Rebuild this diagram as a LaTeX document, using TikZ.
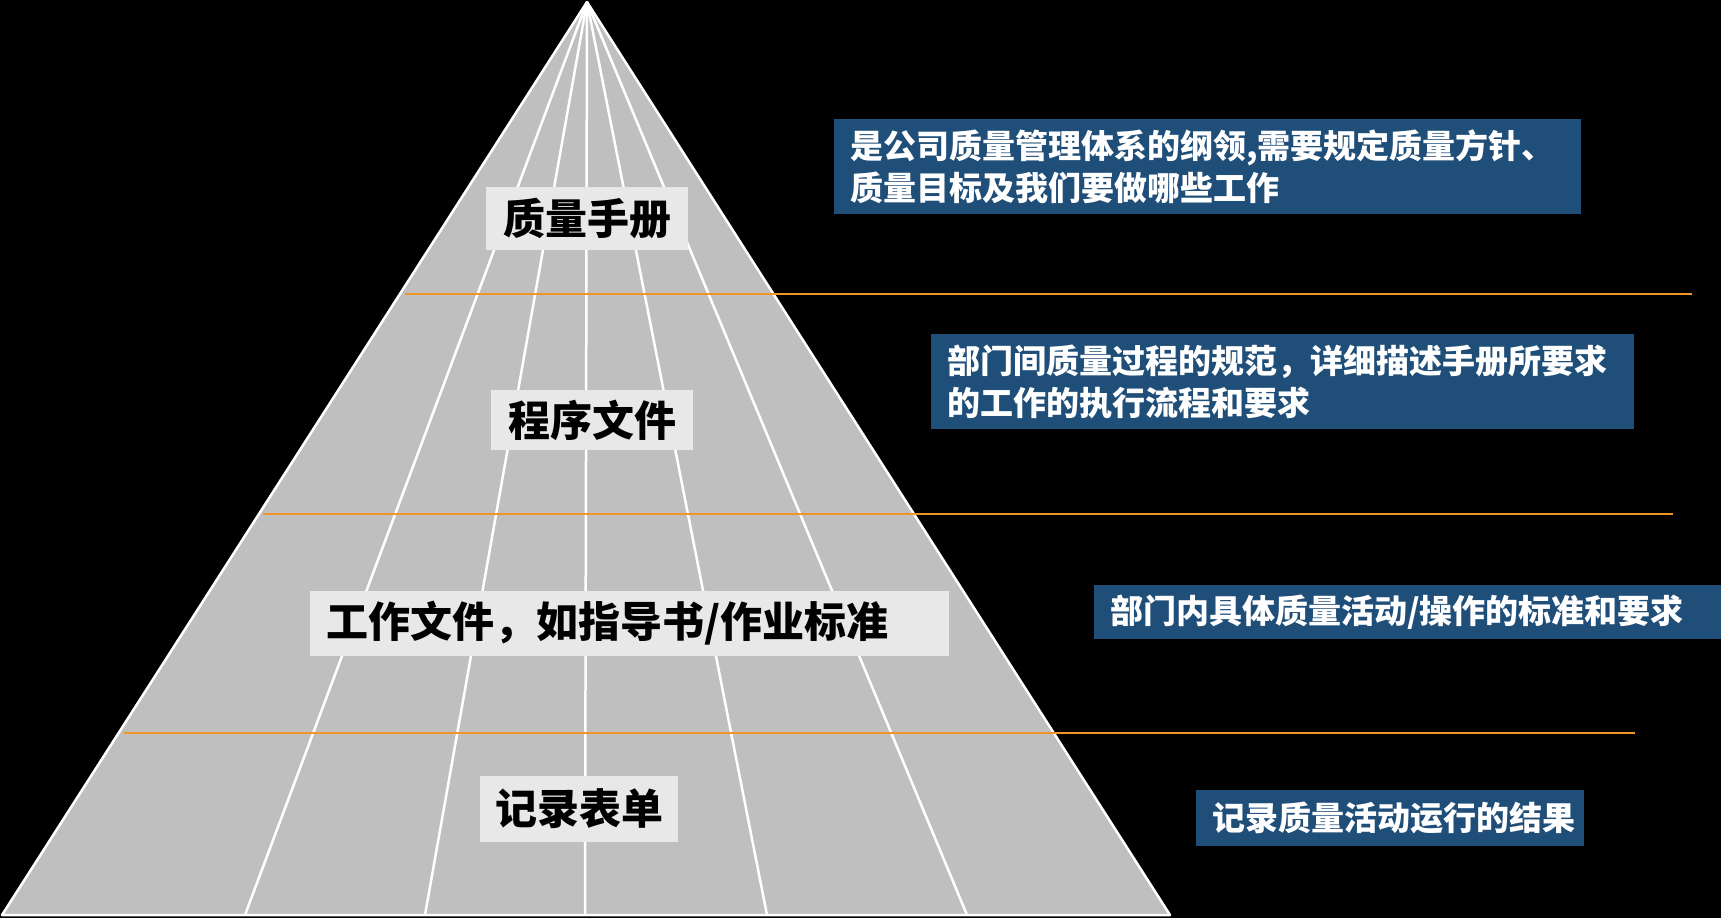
\documentclass[tikz,border=0pt]{standalone}
\usepackage{fontspec}
\newfontfamily\cjk{Noto Sans CJK SC}
\definecolor{boxblue}{RGB}{31,78,121}
\definecolor{pyrgray}{RGB}{191,191,191}
\definecolor{labelgray}{RGB}{232,232,232}
\definecolor{lineorange}{RGB}{240,150,40}

\begin{document}
\begin{tikzpicture}[x=1pt, y=-1pt,
    ridge/.style={draw=white, line width=2.5pt, line join=round},
    divider/.style={draw=lineorange, line width=2.5pt},
    level/.style={fill=labelgray, text=black, inner sep=0pt,
        font=\cjk\bfseries\fontsize{42}{50}\selectfont},
    note/.style={fill=boxblue, text=white, anchor=north west, align=left,
        inner xsep=16pt, inner ysep=0pt,
        font=\cjk\bfseries\fontsize{33}{42}\selectfont}]
            % Background
            \useasboundingbox (0,0) rectangle (1721,918);
            \fill[black] (0,0) rectangle (1721,918);

            % Pyramid
            \coordinate (apex) at (587,2);
            \coordinate (base left) at (2,915);
            \coordinate (base right) at (1170,915);
            \fill[pyrgray] (apex) -- (base left) -- (base right) -- cycle;
            \foreach \x in {245,425,585,767,967}
                \draw[ridge] (apex) -- (\x,915);
            \draw[ridge] (apex) -- (base left) -- (base right) -- cycle;

            % Level dividers
            \draw[divider] (405,294) -- (1692,294);
            \draw[divider] (263,514) -- (1673,514);
            \draw[divider] (124,733) -- (1635,733);

            % Level names
            \node[level, minimum width=202pt, minimum height=63pt] (manual) at (587,218.5) {质量手册};
            \node[level, minimum width=202pt, minimum height=60pt] (procedure) at (592,420) {程序文件};
            \node[level, anchor=west, inner xsep=16pt, text width=607pt, align=left,
                minimum height=65pt] (workdoc) at (310,623.5) {工作文件，如指导书/作业标准};
            \node[level, minimum width=198pt, minimum height=66pt] (record) at (579,809) {记录表单};

            % Descriptions
            \node[note, text width=715pt, minimum height=95pt] (manual text) at (834,119)
                {是公司质量管理体系的纲领,需要规定质量方针、\\质量目标及我们要做哪些工作};
            \node[note, text width=671pt, minimum height=95pt] (procedure text) at (931,334)
                {部门间质量过程的规范，详细描述手册所要求\\的工作的执行流程和要求};
            \node[note, text width=595pt, minimum height=54pt] (workdoc text) at (1094,585)
                {部门内具体质量活动/操作的标准和要求};
            \node[note, text width=356pt, minimum height=56pt] (record text) at (1196,790)
                {记录质量活动运行的结果};
        \end{tikzpicture}
\end{document}
